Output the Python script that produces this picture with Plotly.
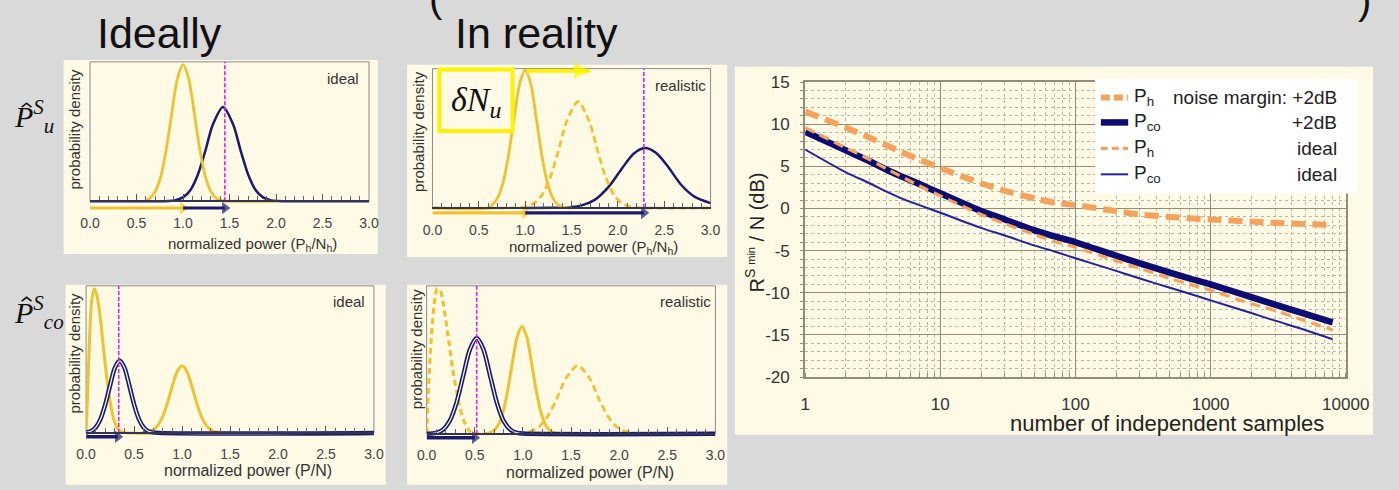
import plotly.graph_objects as go

W, H = 1399, 490


def fx(p):
    return p / W


def fy(p):
    return 1 - p / H


# ------------------------------------------------------------------ data
# right chart: required signal-to-noise vs number of independent samples
N_SAMPLES = [1, 2, 3, 4, 5, 7, 10, 20, 30, 50, 70, 100, 200, 300, 500, 700,
             1000, 2000, 3000, 5000, 8000]
PH_MARGIN = [11.5, 9.6, 8.4, 7.5, 6.8, 5.8, 4.8, 3.0, 2.1, 1.2, 0.7, 0.4,
             -0.3, -0.7, -1.0, -1.15, -1.3, -1.55, -1.7, -1.85, -1.95]
PCO_MARGIN = [9.1, 6.9, 5.6, 4.6, 3.9, 2.9, 1.8, -0.3, -1.3, -2.6, -3.3, -4.0,
              -5.6, -6.5, -7.6, -8.3, -9.0, -10.5, -11.4, -12.5, -13.5]
PH_IDEAL = [9.6, 7.2, 5.8, 4.7, 3.9, 2.7, 1.5, -0.7, -1.8, -3.1, -3.9, -4.6,
            -6.2, -7.1, -8.3, -9.0, -9.7, -11.3, -12.1, -13.3, -14.4]
PCO_IDEAL = [7.0, 4.3, 3.0, 2.0, 1.3, 0.4, -0.5, -2.3, -3.2, -4.4, -5.1, -5.9,
             -7.4, -8.3, -9.4, -10.1, -10.9, -12.4, -13.3, -14.4, -15.5]
LEGEND_NAMES = ["P<sub>h</sub>", "P<sub>co</sub>", "P<sub>h</sub>", "P<sub>co</sub>"]
LEGEND_NOTES = ["noise margin: +2dB", "+2dB", "ideal", "ideal"]
X_TICKS = [1, 10, 100, 1000, 10000]
X_TICK_TEXT = ["1", "10", "100", "1000", "10000"]
Y_TICKS = [-20, -15, -10, -5, 0, 5, 10, 15]
Y_TICK_TEXT = ["-20", "-15", "-10", "-5", "0", "5", "10", "15"]

# small panels: probability densities (normalized power)
PWR_TICKS = [0, 0.5, 1.0, 1.5, 2.0, 2.5, 3.0]
PWR_TICK_TEXT = ["0.0", "0.5", "1.0", "1.5", "2.0", "2.5", "3.0"]

# top-left (ideal, P_u)
UI_NOISE_X = [0.60, 0.64, 0.70, 0.76, 0.82, 0.88, 0.94, 1.00, 1.06, 1.12, 1.18,
              1.24, 1.30, 1.36, 1.42, 1.50, 2.00]
UI_NOISE_Y = [0, 0.02, 0.07, 0.18, 0.38, 0.65, 0.90, 1.0, 0.90, 0.65, 0.38,
              0.18, 0.07, 0.02, 0.005, 0, 0]
UI_SIG_X = [0.0, 0.85, 0.92, 1.00, 1.08, 1.16, 1.24, 1.32, 1.43, 1.54, 1.62,
            1.70, 1.78, 1.86, 1.94, 2.02, 3.0]
UI_SIG_Y = [0, 0.002, 0.008, 0.028, 0.083, 0.196, 0.369, 0.56, 0.69, 0.56,
            0.369, 0.196, 0.083, 0.028, 0.008, 0.002, 0]

# top-middle (realistic, P_u)
UR_NOISE_X = [0.0, 0.60, 0.64, 0.70, 0.76, 0.82, 0.88, 0.94, 1.00, 1.06, 1.12,
              1.18, 1.24, 1.30, 1.36, 1.42, 1.50]
UR_NOISE_Y = [0, 0, 0.02, 0.07, 0.18, 0.38, 0.65, 0.90, 1.0, 0.90, 0.65, 0.38,
              0.18, 0.07, 0.02, 0.005, 0]
UR_SHIFT_X = [0.0, 0.95, 1.03, 1.11, 1.19, 1.27, 1.35, 1.45, 1.57, 1.69, 1.79,
              1.87, 1.95, 2.03, 2.11, 2.19, 2.30, 3.0]
UR_SHIFT_Y = [0, 0.004, 0.014, 0.041, 0.104, 0.221, 0.394, 0.63, 0.77, 0.63,
              0.394, 0.221, 0.104, 0.041, 0.014, 0.004, 0, 0]
UR_SIG_X = [1.0, 1.30, 1.45, 1.60, 1.75, 1.90, 2.05, 2.17, 2.29, 2.41, 2.53,
            2.68, 2.83, 3.0]
UR_SIG_Y = [0, 0.001, 0.004, 0.017, 0.059, 0.153, 0.292, 0.393, 0.434, 0.40,
            0.31, 0.17, 0.08, 0.035]

# bottom-left (ideal, P_co)
CI_NOISE_X = [0.0, 0.02, 0.04, 0.06, 0.088, 0.11, 0.14, 0.17, 0.20, 0.23, 0.26,
              0.29, 0.33, 0.38, 0.75]
CI_NOISE_Y = [0.0, 0.35, 0.72, 0.93, 1.0, 0.96, 0.84, 0.66, 0.47, 0.31, 0.18,
              0.09, 0.03, 0.005, 0]
CI_SIG_X = [0.0, 0.05, 0.10, 0.15, 0.20, 0.25, 0.30, 0.35, 0.40, 0.45, 0.50,
            0.55, 0.60, 0.65, 0.72, 3.0]
CI_SIG_Y = [0.003, 0.012, 0.038, 0.096, 0.197, 0.33, 0.451, 0.5, 0.451, 0.33,
            0.197, 0.096, 0.038, 0.012, 0.002, 0]
CI_REF_X = [0.60, 0.66, 0.72, 0.78, 0.84, 0.90, 0.95, 1.0, 1.05, 1.10, 1.16,
            1.22, 1.28, 1.34, 1.40, 1.45]
CI_REF_Y = [0.002, 0.008, 0.031, 0.087, 0.191, 0.329, 0.426, 0.465, 0.426,
            0.329, 0.191, 0.087, 0.031, 0.008, 0.002, 0]

# bottom-middle (realistic, P_co)
CR_NOISE_X = [0.0, 0.02, 0.05, 0.08, 0.11, 0.14, 0.17, 0.20, 0.23, 0.27, 0.31,
              0.35, 0.40, 0.46, 0.55]
CR_NOISE_Y = [0, 0.32, 0.68, 0.9, 1.0, 0.99, 0.91, 0.78, 0.64, 0.45, 0.30,
              0.17, 0.07, 0.01, 0]
CR_SIG_X = [0.0, 0.10, 0.17, 0.24, 0.31, 0.38, 0.45, 0.52, 0.59, 0.66, 0.73,
            0.80, 0.87, 0.94, 1.0, 3.0]
CR_SIG_Y = [0.001, 0.007, 0.029, 0.089, 0.214, 0.40, 0.582, 0.66, 0.582, 0.40,
            0.214, 0.089, 0.029, 0.007, 0.002, 0]
CR_REF_X = [0.60, 0.64, 0.69, 0.74, 0.79, 0.84, 0.89, 0.94, 0.99, 1.04, 1.09,
            1.14, 1.19, 1.24, 1.29, 1.34, 1.40]
CR_REF_Y = [0.001, 0.005, 0.018, 0.056, 0.141, 0.292, 0.489, 0.667, 0.74,
            0.667, 0.489, 0.292, 0.141, 0.056, 0.018, 0.005, 0.001]
CR_SHIFT_X = [0.95, 1.03, 1.11, 1.19, 1.27, 1.35, 1.45, 1.57, 1.69, 1.79, 1.87,
              1.95, 2.03, 2.11, 2.19, 2.30, 3.0]
CR_SHIFT_Y = [0.002, 0.008, 0.025, 0.063, 0.135, 0.24, 0.385, 0.47, 0.385,
              0.24, 0.135, 0.063, 0.025, 0.008, 0.002, 0, 0]

THRESHOLDS = [1.45, 2.28, 0.34, 0.52]           # magenta dashed lines
NOISE_MEAN = [1.0, 1.0, 0.33, 0.5]              # arrow end points
PANEL_TAGS = ["ideal", "realistic", "ideal", "realistic"]
NOISE_SHIFT = [1.02, 1.70]                      # delta N_u arrow (top)

# ------------------------------------------------------------------ styles
BG = "#d9d9d9"
CREAM = "#fefae6"
YEL = "#efc230"
NAVY = "#1b1b6b"
MAG = "#e020e0"
ORANGE = "#f5a25d"
DNAVY = "#0c0c72"
TNAVY = "#2222a0"
GRID = "#8e8e7c"
MGRID = "#b8b8a6"
SANS = "Liberation Sans, Arial, sans-serif"
SERIF = "Liberation Serif, Times New Roman, serif"

# panel geometry in pixels: (left, right, top, baseline) of plot areas
PANELS = [(82, 368, 55, 200), (433, 718, 62, 207), (78, 373, 288, 441), (427, 723, 288, 442)]
YTOP = [1.02, 1.01, 1.02, 1.02]
ARROW_PX = [7, 5, 4, 4]     # arrow offset below the baseline, pixels
EXTRA_PX = 12               # room below baseline for arrows

fig = go.Figure()


def line(x, y, ax, color, width, dash="solid", shape="spline"):
    fig.add_trace(go.Scatter(x=x, y=y, mode="lines", xaxis="x" + ax, yaxis="y" + ax,
                             line=dict(color=color, width=width, dash=dash, shape=shape,
                                       smoothing=0.8),
                             hoverinfo="skip", showlegend=False))


def arrow(x0, x1, y, ax, color, width, size, symbol="triangle-right"):
    fig.add_trace(go.Scatter(x=[x0, x1], y=[y, y], mode="lines+markers",
                             xaxis="x" + ax, yaxis="y" + ax, cliponaxis=False,
                             line=dict(color=color, width=width),
                             marker=dict(symbol=symbol, size=[0, size],
                                         color=color, line=dict(width=0)),
                             hoverinfo="skip", showlegend=False))


# panel 1
line(UI_SIG_X, UI_SIG_Y, "", NAVY, 2.5)
line(UI_NOISE_X, UI_NOISE_Y, "", YEL, 2.8)
# panel 2
line(UR_SIG_X, UR_SIG_Y, "2", NAVY, 2.5)
line(UR_SHIFT_X, UR_SHIFT_Y, "2", YEL, 2.8, dash="7px,4px")
line(UR_NOISE_X, UR_NOISE_Y, "2", YEL, 2.8)
# panel 3
line(CI_NOISE_X, CI_NOISE_Y, "3", YEL, 3)
line(CI_REF_X, CI_REF_Y, "3", YEL, 3)
line(CI_SIG_X, CI_SIG_Y, "3", NAVY, 4.5)
line(CI_SIG_X, CI_SIG_Y, "3", "#ffffff", 1.2)
# panel 4
line(CR_NOISE_X, CR_NOISE_Y, "4", YEL, 3.2, dash="6px,4px")
line(CR_SHIFT_X, CR_SHIFT_Y, "4", YEL, 2.8, dash="7px,4px")
line(CR_REF_X, CR_REF_Y, "4", YEL, 3)
line(CR_SIG_X, CR_SIG_Y, "4", NAVY, 4.5)
line(CR_SIG_X, CR_SIG_Y, "4", "#ffffff", 1.2)

# threshold lines
for i, t in enumerate(THRESHOLDS):
    ax = "" if i == 0 else str(i + 1)
    line([t, t], [0, YTOP[i]], ax, MAG, 1.6, dash="4px,2px", shape="linear")

# arrows below the baselines
ylo = []
for i, (l, r, t, b) in enumerate(PANELS):
    scale = (b - t) / YTOP[i]
    ylo.append(-EXTRA_PX / scale)
    ay = -ARROW_PX[i] / scale
    k = "" if i == 0 else str(i + 1)
    if i < 2:
        arrow(0, NOISE_MEAN[i], ay, k, YEL, 3.2, 11)
        arrow(NOISE_MEAN[i], THRESHOLDS[i], ay, k, NAVY, 3.2, 11)
    else:
        arrow(0, NOISE_MEAN[i], ay, k, NAVY, 3.6, 11)
# delta N_u shift arrow on top of panel 2
arrow(NOISE_SHIFT[0], NOISE_SHIFT[1], 0.995, "2", "#fff200", 4, 16, symbol="arrow-right")

# right chart
line(N_SAMPLES, PH_MARGIN, "5", ORANGE, 6, dash="14px,7px")
line(N_SAMPLES, PCO_MARGIN, "5", DNAVY, 6.5)
line(N_SAMPLES, PH_IDEAL, "5", ORANGE, 3.2, dash="10px,6px")
line(N_SAMPLES, PCO_IDEAL, "5", TNAVY, 2)

layout = dict(width=W, height=H, margin=dict(l=0, r=0, t=0, b=0),
              paper_bgcolor=BG, plot_bgcolor="rgba(0,0,0,0)", showlegend=False)

for i, (l, r, t, b) in enumerate(PANELS):
    k = "" if i == 0 else str(i + 1)
    layout["xaxis" + k] = dict(
        domain=[fx(l), fx(r)], range=[0, 3], anchor="free", position=fy(b),
        tickvals=PWR_TICKS, ticktext=PWR_TICK_TEXT, ticks="inside", ticklen=6,
        tickcolor="#555", tickwidth=1,
        minor=dict(dtick=0.1, ticks="inside", ticklen=4, tickcolor="#666"),
        showline=True, linecolor="#333355", linewidth=1.5,
        showgrid=False, zeroline=False, ticklabelstandoff=9,
        tickfont=dict(family=SANS, size=14, color="#444"))
    layout["yaxis" + k] = dict(
        domain=[fy(b + EXTRA_PX), fy(t)], range=[ylo[i], YTOP[i]], anchor="x" + k,
        showticklabels=False, ticks="", showgrid=False, zeroline=False,
        showline=False)

layout["xaxis5"] = dict(
    domain=[fx(815), fx(1369)], type="log", range=[0, 4], anchor="y5",
    tickvals=X_TICKS, ticktext=X_TICK_TEXT, ticks="", showgrid=True,
    gridcolor=GRID, gridwidth=1,
    minor=dict(dtick="D1", showgrid=True, gridcolor=MGRID, griddash="dot",
               gridwidth=1, ticks="inside", ticklen=4, tickcolor=GRID),
    showline=True, linecolor=GRID, linewidth=2, mirror=True, zeroline=False,
    ticklabelstandoff=10, tickfont=dict(family=SANS, size=17, color="#333"))
layout["yaxis5"] = dict(
    domain=[fy(383), fy(76)], range=[-20, 15], anchor="x5",
    tickvals=Y_TICKS, ticktext=Y_TICK_TEXT, ticks="", showgrid=True,
    gridcolor=GRID, gridwidth=1,
    minor=dict(dtick=1, showgrid=True, gridcolor=MGRID, griddash="dot",
               gridwidth=1, ticks="outside", ticklen=3, tickcolor=GRID),
    showline=True, linecolor=GRID, linewidth=2, mirror=True, zeroline=False,
    ticklabelstandoff=10, tickfont=dict(family=SANS, size=17, color="#333"))

shapes = []
# cream panels
for (x0, y0, x1, y1) in [(55, 53, 377, 255), (407, 58, 735, 258), (57, 287, 385, 495),
                         (407, 287, 735, 495), (743, 60, 1397, 443)]:
    shapes.append(dict(type="rect", xref="paper", yref="paper", x0=fx(x0), x1=fx(x1),
                       y0=fy(y1), y1=fy(y0), fillcolor=CREAM, line=dict(width=0),
                       layer="below"))
# panel frames (plot areas down to the baseline)
for (l, r, t, b) in PANELS:
    shapes.append(dict(type="rect", xref="paper", yref="paper", x0=fx(l), x1=fx(r),
                       y0=fy(b), y1=fy(t), line=dict(color="#8a8a8a", width=1),
                       layer="below"))
# operator hats
for (hx, hy) in [(17, 98), (17, 300)]:
    shapes.append(dict(type="path", xref="paper", yref="paper",
                       path="M %f,%f L %f,%f L %f,%f" % (fx(hx - 5), fy(hy + 4), fx(hx), fy(hy),
                                                         fx(hx + 5), fy(hy + 4)),
                       line=dict(color="#111", width=1.6), layer="above"))
# delta N box
shapes.append(dict(type="rect", xref="paper", yref="paper", x0=fx(440), x1=fx(515),
                   y0=fy(127), y1=fy(63), line=dict(color="#fff200", width=4),
                   layer="above"))
# legend box and samples
shapes.append(dict(type="rect", xref="paper", yref="paper", x0=fx(1112), x1=fx(1381),
                   y0=fy(192), y1=fy(73), fillcolor="#ffffff", line=dict(width=0),
                   layer="above"))
LEG_ROWS = [92, 118, 145, 172]
LEG_STYLE = [(ORANGE, 6, "9px,4px"), (DNAVY, 6.5, "solid"),
             (ORANGE, 3.2, "7px,4px"), (TNAVY, 2, "solid")]
for py, (c, w, d) in zip(LEG_ROWS, LEG_STYLE):
    shapes.append(dict(type="line", xref="paper", yref="paper", x0=fx(1118), x1=fx(1146),
                       y0=fy(py), y1=fy(py), line=dict(color=c, width=w, dash=d),
                       layer="above"))
layout["shapes"] = shapes

ann = []


def text(px, py, s, size, family=SANS, color="#222", xanchor="center",
         yanchor="middle", angle=0):
    ann.append(dict(xref="paper", yref="paper", x=fx(px), y=fy(py), text=s,
                    showarrow=False, xanchor=xanchor, yanchor=yanchor,
                    textangle=angle, font=dict(family=family, size=size, color=color)))


text(153, 25, "Ideally", 43, color="#111")
text(540, 25, "In reality", 43, color="#111")
text(437, 14, "(", 40, color="#111", yanchor="bottom")
text(1388, 16, ")", 40, color="#111", yanchor="bottom")

# operator labels
text(2, 112, "<i>P</i><sup><i>S</i></sup><sub><i>u</i></sub>", 30, family=SERIF,
     color="#111", xanchor="left")
text(2, 316, "<i>P</i><sup><i>S</i></sup><sub><i>co</i></sub>", 30, family=SERIF,
     color="#111", xanchor="left")
text(478, 97, "<i>δN</i><sub><i>u</i></sub>", 34, family=SERIF, color="#111")

# panel texts
for (px, py), tag in zip([(341, 72), (687, 80), (347, 304), (692, 304)], PANEL_TAGS):
    text(px, py, tag, 15, color="#333")
for px, py in [(66, 125), (418, 127), (66, 358), (416, 353)]:
    text(px, py, "probability density", 15, color="#333", angle=-90)
text(249, 245, "normalized power (P<sub>h</sub>/N<sub>h</sub>)", 15, color="#333")
text(598, 248, "normalized power (P<sub>h</sub>/N<sub>h</sub>)", 15, color="#333")
text(244, 480, "normalized power (P/N)", 16, color="#333")
text(594, 482, "normalized power (P/N)", 16, color="#333")

# right chart titles
text(1186, 431, "number of independent samples", 22, color="#222")
text(763, 232, "R<sup>S <span style='font-size:11px'>min</span></sup> / N (dB)",
     20, color="#222", angle=-90)

# legend text
for py, nm, note in zip(LEG_ROWS, LEGEND_NAMES, LEGEND_NOTES):
    text(1150, py, nm, 19, color="#222", xanchor="left")
    text(1362, py, note, 19, color="#222", xanchor="right")
layout["annotations"] = ann

fig.update_layout(**layout)
fig.write_html("out.html", config={"displayModeBar": False},
               post_script="document.body.style.margin='0';"
                           "document.body.style.overflow='hidden';")
